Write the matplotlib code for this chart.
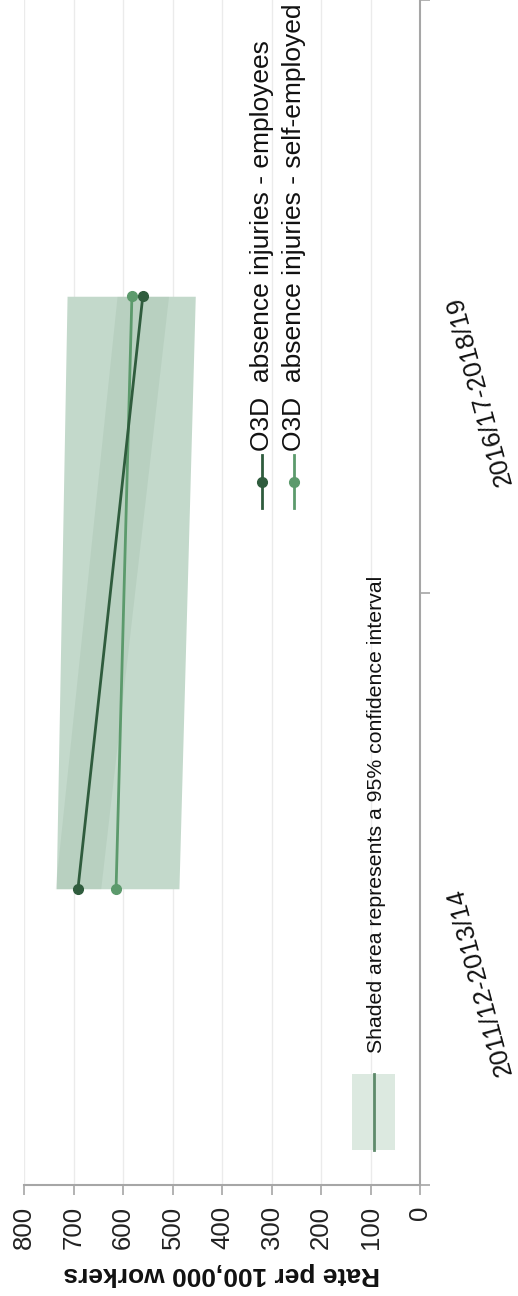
import matplotlib
matplotlib.use("Agg")
import matplotlib.pyplot as plt
from matplotlib.lines import Line2D
from matplotlib.patches import Rectangle

plt.rcParams['font.family'] = ['Liberation Sans', 'DejaVu Sans']

# ---- data ----
periods = ["2011/12-2013/14", "2016/17-2018/19"]
employees = [691, 560]
employees_lo = [645, 508]
employees_hi = [737, 612]
self_employed = [614, 582]
self_lo = [487, 454]
self_hi = [735, 713]
series_labels = ["O3D  absence injuries - employees", "O3D  absence injuries - self-employed"]
value_ticks = [0, 100, 200, 300, 400, 500, 600, 700, 800]
ci_note = "Shaded area represents a 95% confidence interval"
value_label = "Rate per 100,000 workers"

# ---- style ----
W, H = 518, 1296
DPI = 100
c_emp = "#2f5c3d"
c_self = "#5c9a6c"
c_band = "#c3d9cb"
c_spine = "#a6a6a6"
c_grid = "#ebebeb"

fig = plt.figure(figsize=(W / DPI, H / DPI), dpi=DPI)

def fx(px):
    return px / W

def fy(py):
    return 1 - py / H

ax_left, ax_right, ax_top, ax_bottom = 24, 420, 0, 1185
ax = fig.add_axes([fx(ax_left), fy(ax_bottom), fx(ax_right) - fx(ax_left), fy(ax_top) - fy(ax_bottom)])

pos = [1, 2]
# confidence bands (drawn rotated: values horizontal, periods vertical)
ax.fill_betweenx(pos, self_lo, self_hi, color=c_band, lw=0, zorder=1)
ax.fill_betweenx(pos, employees_lo, employees_hi, color=c_emp, alpha=0.07, lw=0, zorder=2)

ax.plot(employees, pos, color=c_emp, lw=2, marker='o', ms=7, zorder=4)
ax.plot(self_employed, pos, color=c_self, lw=2, marker='o', ms=7, zorder=3)

ax.set_xlim(800, 0)
ax.set_ylim(0.5, 2.5)

ax.set_xticks(value_ticks)
ax.set_xticklabels([str(v) for v in value_ticks], rotation=90, fontsize=18.5, color="#222222")
ax.tick_params(axis='x', length=7, width=1.2, color=c_spine, pad=8, direction='out')
ax.grid(axis='x', color=c_grid, lw=1)
ax.set_axisbelow(True)

ax.yaxis.tick_right()
ax.set_yticks([0.5, 1.5, 2.5])
ax.set_yticklabels([])
ax.tick_params(axis='y', length=7, width=1.2, color=c_spine, direction='out')

for s in ['top', 'left']:
    ax.spines[s].set_visible(False)
for s in ['right', 'bottom']:
    ax.spines[s].set_color(c_spine)
    ax.spines[s].set_linewidth(1.5)

# period labels (tilted)
for p, lab in zip(pos, periods):
    ax.annotate(lab, xy=(0, p), xycoords=('data', 'data'), xytext=(35, 0),
                textcoords='offset pixels', rotation=105, rotation_mode='anchor',
                ha='right', va='center', fontsize=18.5, color="#111111")

# value axis label
fig.text(fx(222), fy(1274), value_label, rotation=180, ha='center', va='center',
         fontsize=19, fontweight='bold', color="#111111")

# series legend (rotated)
for xpx, col, lab in [(262, c_emp, series_labels[0]), (294, c_self, series_labels[1])]:
    fig.add_artist(Line2D([fx(xpx), fx(xpx)], [fy(508), fy(455)], color=col, lw=2,
                          transform=fig.transFigure))
    fig.add_artist(Line2D([fx(xpx)], [fy(482)], color=col, marker='o', ms=7,
                          transform=fig.transFigure))
    fig.text(fx(xpx), fy(451), lab, rotation=90, rotation_mode='anchor',
             ha='left', va='center', fontsize=19, color="#111111")

# CI note legend
fig.add_artist(Rectangle((fx(352), fy(1150)), fx(395) - fx(352), fy(1074) - fy(1150),
                         transform=fig.transFigure, color="#dce9e0", lw=0))
fig.add_artist(Line2D([fx(374), fx(374)], [fy(1150), fy(1074)], color="#5e8a6b", lw=2,
                      transform=fig.transFigure))
fig.text(fx(377), fy(1053), ci_note, rotation=90, rotation_mode='anchor',
         ha='left', va='center', fontsize=15.3, color="#111111")

fig.savefig("out.png", dpi=DPI)
